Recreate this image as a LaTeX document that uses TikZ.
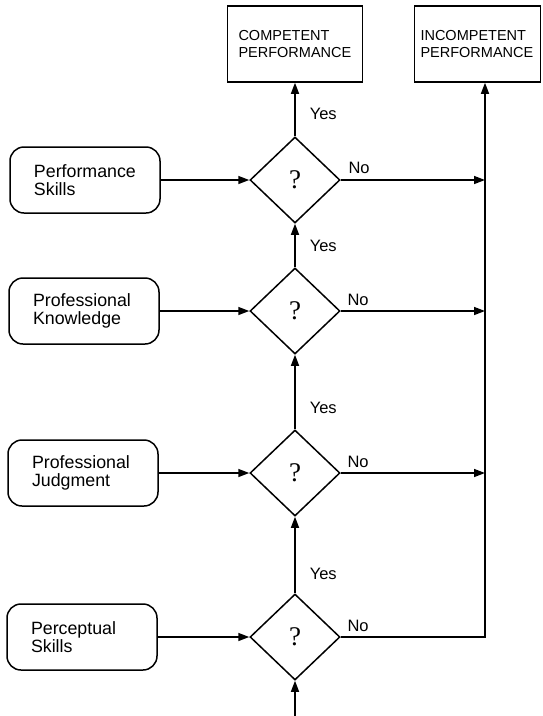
\documentclass[tikz,border=0pt]{standalone}
\usepackage{fontspec}
\setmainfont{Liberation Sans}
\newfontfamily\qfont{Liberation Serif}
\usetikzlibrary{arrows.meta,positioning,shapes.geometric}

\begin{document}
\begin{tikzpicture}[x=1pt,y=-1pt,line width=1.5pt,
  skill/.style={draw,rounded corners=14pt,text width=102pt,inner xsep=24pt,
    minimum height=66pt,align=left,font=\fontsize{17.8}{18.5}\selectfont},
  outcome/.style={draw,minimum height=76pt,align=left,
    font=\fontsize{14.5}{17}\selectfont},
  test/.style={draw,diamond,inner sep=0pt,minimum width=90pt,minimum height=86pt,
    font=\qfont\fontsize{27}{27}\selectfont},
  lbl/.style={font=\fontsize{16.5}{18}\selectfont,inner sep=0pt},
  tip/.style={-{Triangle[length=11pt,width=8pt]}}]
\useasboundingbox (0,0) rectangle (542,716);

% outcomes
\node[outcome,text width=113pt,inner xsep=11pt] (comp) at (295,44) {COMPETENT\\PERFORMANCE};
\node[outcome,text width=114pt,inner xsep=6pt] (inc) at (477.5,44) {INCOMPETENT\\PERFORMANCE};

% tests
\node[test] (d1) at (295,180) {?};
\node[test] (d2) at (295,311) {?};
\node[test] (d3) at (295,473) {?};
\node[test] (d4) at (295,637) {?};

% skills
\node[skill] (ps) at (85,180) {Performance\\Skills};
\node[skill] (pk) at (84,311) {Professional\\Knowledge};
\node[skill] (pj) at (83,473) {Professional\\Judgment};
\node[skill] (pc) at (82,637) {Perceptual\\Skills};

\coordinate (rail) at (485,637);
\coordinate (entry) at (295,716);

\draw[tip] (ps) -- (d1);
\draw[tip] (pk) -- (d2);
\draw[tip] (pj) -- (d3);
\draw[tip] (pc) -- (d4);

% yes path
\draw[tip] (entry) -- (d4);
\draw[tip] (d4) -- (d3);
\draw[tip] (d3) -- (d2);
\draw[tip] (d2) -- (d1);
\draw[tip] (d1) -- (comp);
\node[lbl,right=14pt of d1.north,yshift=22pt] (yes1) {Yes};
\node[lbl,right=14pt of d2.north,yshift=21pt] (yes2) {Yes};
\node[lbl,right=14pt of d3.north,yshift=21pt] (yes3) {Yes};
\node[lbl,right=14pt of d4.north,yshift=19pt] (yes4) {Yes};

% no path
\draw[tip] (d1.east) -- (d1.east -| rail);
\draw[tip] (d2.east) -- (d2.east -| rail);
\draw[tip] (d3.east) -- (d3.east -| rail);
\draw[tip] (d4.east) -- (rail) -- (rail |- inc.south);
\node[lbl,above right=6pt and 7pt of d1.east] (no1) {No};
\node[lbl,above right=5pt and 6pt of d2.east] (no2) {No};
\node[lbl,above right=5pt and 6pt of d3.east] (no3) {No};
\node[lbl,above right=5pt and 6pt of d4.east] (no4) {No};
\end{tikzpicture}
\end{document}
